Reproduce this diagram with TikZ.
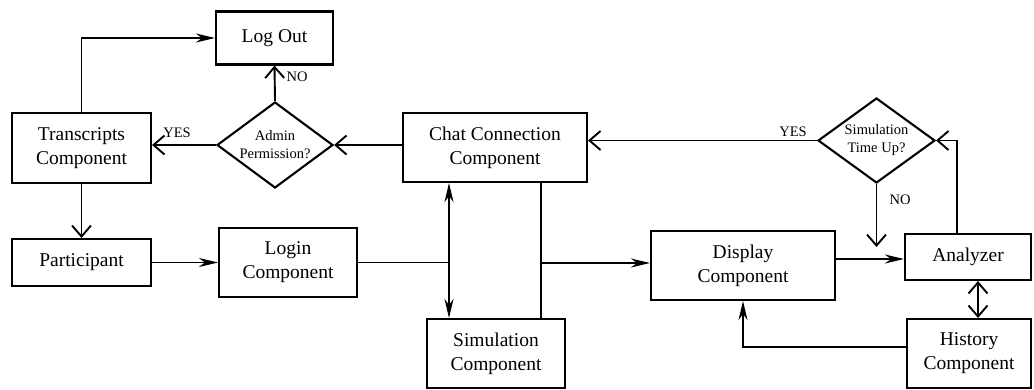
\documentclass[tikz,border=0pt]{standalone}
\usepackage{fontspec}
\setmainfont{Liberation Serif}
\usetikzlibrary{arrows.meta,shapes.geometric}
\begin{document}
\begin{tikzpicture}[x=1pt,y=-1pt,
  box/.style={draw,line width=2.1pt,inner sep=0pt,align=center,
    font=\fontsize{19.5}{24}\selectfont},
  decision/.style={draw,diamond,line width=2.1pt,inner sep=0pt},
  dtext/.style={align=center,font=\fontsize{14.5}{18}\selectfont},
  lbl/.style={font=\fontsize{14.5}{16}\selectfont,inner sep=1pt},
  line/.style={line width=1.9pt},
  openhead/.tip={Straight Barb[length=11pt,width=19pt,line width=1.9pt]},
  solidhead/.tip={Stealth[length=19pt,width=9pt,inset=6pt]},
  openarr/.style={line,-openhead},
  solidarr/.style={line,-solidhead},
  solidboth/.style={line,solidhead-solidhead},
  openboth/.style={line,openhead-openhead}]
\useasboundingbox (0,0) rectangle (1034,389);

% boxes
\node[box,minimum width=117pt,minimum height=53pt] (logout) at (274.5,38) {Log Out};
\node[box,minimum width=139pt,minimum height=70pt] (trans) at (81.5,148) {Transcripts\\Component};
\node[box,minimum width=139pt,minimum height=47pt] (part) at (81.5,262.5) {Participant};
\node[box,minimum width=138pt,minimum height=69pt] (login) at (288,262.5) {Login\\Component};
\node[box,minimum width=184pt,minimum height=69pt] (chat) at (495,147.5) {Chat Connection\\Component};
\node[box,minimum width=138pt,minimum height=69pt] (sim) at (496,353.5) {Simulation\\Component};
\node[box,minimum width=184pt,minimum height=69pt] (disp) at (743,265.5) {Display\\Component};
\node[box,minimum width=126pt,minimum height=46pt] (anl) at (968,257) {Analyzer};
\node[box,minimum width=124pt,minimum height=69pt] (hist) at (969,353.5) {History\\Component};

% decisions
\node[decision,minimum width=116pt,minimum height=86pt,
  label={[dtext]center:Admin\\Permission?}] (admin) at (275,145) {};
\node[decision,minimum width=117pt,minimum height=85pt,
  label={[dtext]center:Simulation\\Time Up?}] (simq) at (876.5,140.5) {};

% junction points
\coordinate (jl) at (449,262.5);
\coordinate (jr) at (541,263);
\coordinate (noend) at (876.5,247);

% connectors
\draw[solidarr] (trans.north) |- (logout.west);
\draw[openarr] (admin.north) -- (logout.south);
\node[lbl] (lno) at (297,77) {NO};
\draw[openarr] (admin.west) -- (admin.west -| trans.east);
\node[lbl] (lyes) at (177,133) {YES};
\draw[openarr] (admin.east -| chat.west) -- (admin.east);
\draw[openarr] (trans.south) -- (part.north);
\draw[solidarr] (part.east) -- (login.west);
\draw[line] (login.east) -- (jl);
\draw[solidboth] (chat.south -| jl) -- (sim.north -| jl);
\draw[line] (chat.south -| jr) -- (sim.north -| jr);
\draw[solidarr] (jr) -- (jr -| disp.west);
\draw[solidarr] (disp.east |- 0,259) -- (anl.west |- 0,259);
\draw[openarr] (anl.north -| 957,0) |- (simq.east);
\draw[openarr] (simq.south) -- (noend);
\node[lbl] (lno2) at (900,200) {NO};
\draw[openarr] (simq.west) -- (simq.west -| chat.east);
\node[lbl] (lyes2) at (793,132) {YES};
\draw[openboth] (anl.south -| 978,0) -- (hist.north -| 978,0);
\draw[solidarr] (hist.west |- 0,347) -| (disp.south);
\end{tikzpicture}
\end{document}
